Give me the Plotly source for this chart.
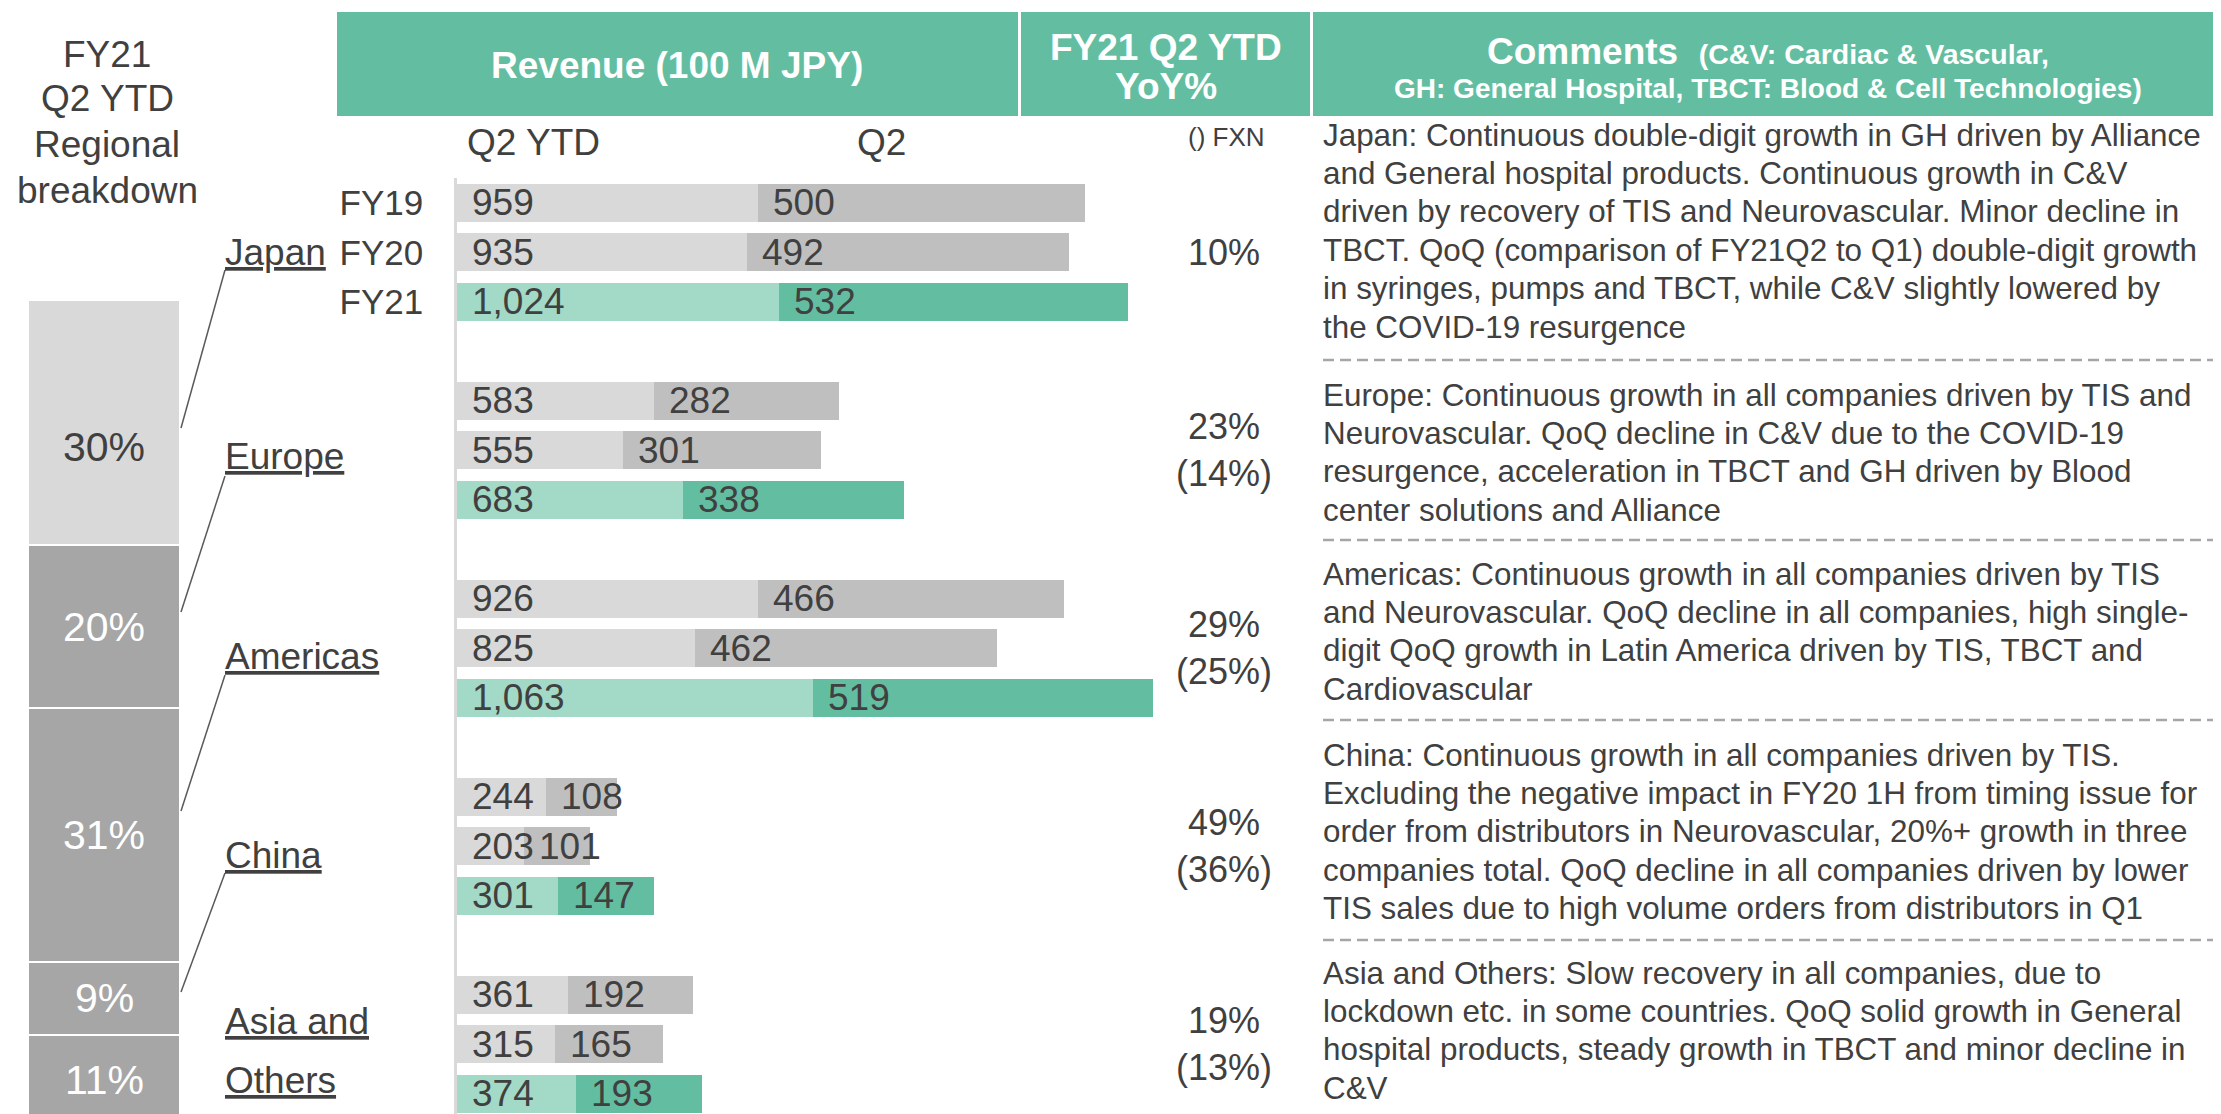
import plotly.graph_objects as go

W, H = 2221, 1114

# ---------------- data ----------------
regions = ["Japan", "Europe", "Americas", "China", "Asia and Others"]
years = ["FY19", "FY20", "FY21"]

ytd_fy19 = [959, 583, 926, 244, 361]
ytd_fy20 = [935, 555, 825, 203, 315]
ytd_fy21 = [1024, 683, 1063, 301, 374]
q2_fy19 = [500, 282, 466, 108, 192]
q2_fy20 = [492, 301, 462, 101, 165]
q2_fy21 = [532, 338, 519, 147, 193]

yoy = ["10%", "23%", "29%", "49%", "19%"]
yoy_fxn = ["", "(14%)", "(25%)", "(36%)", "(13%)"]

share = [30, 20, 31, 9, 11]  # FY21 Q2 YTD regional breakdown (%)

comments_japan = [
    "Japan: Continuous double-digit growth in GH driven by Alliance",
    "and General hospital products. Continuous growth in C&amp;V",
    "driven by recovery of TIS and Neurovascular. Minor decline in",
    "TBCT. QoQ (comparison of FY21Q2 to Q1) double-digit growth",
    "in syringes, pumps and TBCT, while C&amp;V slightly lowered by",
    "the COVID-19 resurgence",
]
comments_europe = [
    "Europe: Continuous growth in all companies driven by TIS and",
    "Neurovascular. QoQ decline in C&amp;V due to the COVID-19",
    "resurgence, acceleration in TBCT and GH driven by Blood",
    "center solutions and Alliance",
]
comments_americas = [
    "Americas: Continuous growth in all companies driven by TIS",
    "and Neurovascular. QoQ decline in all companies, high single-",
    "digit QoQ growth in Latin America driven by TIS, TBCT and",
    "Cardiovascular",
]
comments_china = [
    "China: Continuous growth in all companies driven by TIS.",
    "Excluding the negative impact in FY20 1H from timing issue for",
    "order from distributors in Neurovascular, 20%+ growth in three",
    "companies total. QoQ decline in all companies driven by lower",
    "TIS sales due to high volume orders from distributors in Q1",
]
comments_asia = [
    "Asia and Others: Slow recovery in all companies, due to",
    "lockdown etc. in some countries. QoQ solid growth in General",
    "hospital products, steady growth in TBCT and minor decline in",
    "C&amp;V",
]

# ---------------- styles ----------------
FONT = "Arial, Liberation Sans, sans-serif"
TXT = "#404040"
GREEN = "#63BEA1"
LGREEN = "#A3D9C7"
LGRAY = "#D9D9D9"
MGRAY = "#BFBFBF"
DGRAY = "#A6A6A6"

OFF = 8  # page body margin offset


def px(x):
    return (x - OFF) / W


def py(y):
    return 1 - (y - OFF) / H


ytd_all = [ytd_fy19, ytd_fy20, ytd_fy21]
q2_all = [q2_fy19, q2_fy20, q2_fy21]

slots, q1_vals, q2_vals, ytd_vals, c1, c2 = [], [], [], [], [], []
for ri in range(len(regions)):
    for yi in range(len(years)):
        slots.append(ri * 4 + yi)
        ytd_vals.append(ytd_all[yi][ri])
        q2_vals.append(q2_all[yi][ri])
        q1_vals.append(ytd_all[yi][ri] - q2_all[yi][ri])
        c1.append(LGREEN if yi == 2 else LGRAY)
        c2.append(GREEN if yi == 2 else MGRAY)

fig = go.Figure()

fig.add_trace(go.Bar(x=q1_vals, y=slots, orientation="h", width=0.77,
                     marker=dict(color=c1, line=dict(width=0)),
                     xaxis="x", yaxis="y", hoverinfo="skip"))
fig.add_trace(go.Bar(x=q2_vals, y=slots, orientation="h", width=0.77,
                     marker=dict(color=c2, line=dict(width=0)),
                     xaxis="x", yaxis="y", hoverinfo="skip"))

ann = []

# stacked share bar (Japan on top)
cum = 0
for i in reversed(range(len(regions))):
    fig.add_trace(go.Bar(
        x=[0], y=[share[i]], width=1, xaxis="x2", yaxis="y2",
        marker=dict(color=LGRAY if i == 0 else DGRAY, line=dict(color="white", width=2.5)),
        hoverinfo="skip"))
    ann.append(dict(x=0, y=cum + share[i] / 2, xref="x2", yref="y2", text=f"{share[i]}%",
                    showarrow=False, xanchor="center", yanchor="middle",
                    yshift=-24 if i == 0 else 0,
                    font=dict(size=41, color=TXT if i == 0 else "white")))
    cum += share[i]

# bar value labels
for s, q1, yv, qv in zip(slots, q1_vals, ytd_vals, q2_vals):
    ann.append(dict(x=0, y=s, xref="x", yref="y", text=f"{yv:,}", showarrow=False,
                    xanchor="left", yanchor="middle", xshift=13,
                    font=dict(size=37, color=TXT)))
    ann.append(dict(x=q1, y=s, xref="x", yref="y", text=f"{qv:,}", showarrow=False,
                    xanchor="left", yanchor="middle", xshift=13,
                    font=dict(size=37, color=TXT)))

# YoY column
for ri in range(len(regions)):
    t = yoy[ri] if not yoy_fxn[ri] else f"{yoy[ri]}<br>{yoy_fxn[ri]}"
    ann.append(dict(x=px(1224), y=ri * 4 + 1, xref="paper", yref="y", text=t,
                    showarrow=False, xanchor="center", yanchor="middle",
                    font=dict(size=36, color=TXT)))

# left title
for t, yy in zip(["FY21", "Q2 YTD", "Regional", "breakdown"], [55, 99, 144, 190]):
    ann.append(dict(x=px(107), y=py(yy), xref="paper", yref="paper", text=t, showarrow=False,
                    xanchor="center", yanchor="middle", font=dict(size=37, color=TXT)))

# region labels
for t, yy in zip(["Japan", "Europe", "Americas", "China", "Asia and", "Others"],
                 [253, 456, 656, 855, 1021, 1080]):
    ann.append(dict(x=px(223), y=py(yy), xref="paper", yref="paper", text=f"<u>{t}</u>",
                    showarrow=False, xanchor="left", yanchor="middle",
                    font=dict(size=37, color=TXT)))

# headers
ann.append(dict(x=px(677), y=py(66), xref="paper", yref="paper",
                text="<b>Revenue (100 M JPY)</b>", showarrow=False,
                xanchor="center", yanchor="middle", font=dict(size=37, color="white")))
ann.append(dict(x=px(1166), y=py(47), xref="paper", yref="paper",
                text="<b>FY21 Q2 YTD</b>", showarrow=False,
                xanchor="center", yanchor="middle", font=dict(size=37, color="white")))
ann.append(dict(x=px(1166), y=py(87), xref="paper", yref="paper",
                text="<b>YoY%</b>", showarrow=False,
                xanchor="center", yanchor="middle", font=dict(size=37, color="white")))
ann.append(dict(x=px(1768), y=py(51), xref="paper", yref="paper",
                text="<b>Comments</b>  <span style='font-size:28.5px'><b>(C&amp;V: Cardiac &amp; Vascular,</b></span>",
                showarrow=False, xanchor="center", yanchor="middle",
                font=dict(size=37, color="white")))
ann.append(dict(x=px(1768), y=py(88), xref="paper", yref="paper",
                text="<b>GH: General Hospital, TBCT: Blood &amp; Cell Technologies)</b>",
                showarrow=False, xanchor="center", yanchor="middle",
                font=dict(size=28, color="white")))

ann.append(dict(x=px(533), y=py(143), xref="paper", yref="paper", text="Q2 YTD",
                showarrow=False, xanchor="center", yanchor="middle", font=dict(size=37, color=TXT)))
ann.append(dict(x=px(881), y=py(143), xref="paper", yref="paper", text="Q2",
                showarrow=False, xanchor="center", yanchor="middle", font=dict(size=37, color=TXT)))
ann.append(dict(x=px(1226), y=py(137), xref="paper", yref="paper", text="() FXN",
                showarrow=False, xanchor="center", yanchor="middle", font=dict(size=26, color=TXT)))

# comments
blocks = [comments_japan, comments_europe, comments_americas, comments_china, comments_asia]
starts = [135, 395, 574, 755, 973]
for lines, y0 in zip(blocks, starts):
    for k, t in enumerate(lines):
        ann.append(dict(x=px(1321), y=py(y0 + k * 38.4), xref="paper", yref="paper", text=t,
                        showarrow=False, xanchor="left", yanchor="middle",
                        font=dict(size=31.4, color=TXT)))

shapes = []
# header boxes
for x0, x1 in [(337, 1018), (1021, 1310), (1313, 2240)]:
    shapes.append(dict(type="rect", xref="paper", yref="paper", x0=px(x0), x1=px(x1),
                       y0=py(116), y1=py(12), fillcolor=GREEN, line=dict(width=0), layer="below"))
# dashed separators
for yy in [360, 540, 720, 940]:
    shapes.append(dict(type="line", xref="paper", yref="paper", x0=px(1323), x1=px(2240),
                       y0=py(yy), y1=py(yy), line=dict(color=DGRAY, width=2.5, dash="11px,6px")))
# connector lines
for (ya, yb) in [(428, 270), (612, 476), (811, 675), (992, 873)]:
    shapes.append(dict(type="line", xref="paper", yref="paper", x0=px(181), x1=px(225),
                       y0=py(ya), y1=py(yb), line=dict(color="#595959", width=1.5)))

SLOT = 49.5
bottom_screen = H + OFF
fig.update_layout(
    width=W, height=H,
    margin=dict(l=0, r=0, t=0, b=0),
    paper_bgcolor="white", plot_bgcolor="rgba(0,0,0,0)",
    barmode="stack", bargap=0, showlegend=False,
    font=dict(family=FONT, color=TXT),
    xaxis=dict(domain=[px(457), px(1160)], range=[0, (1160 - 457) / 0.655],
               visible=False, fixedrange=True),
    yaxis=dict(domain=[0, py(178)], range=[(bottom_screen - 178) / SLOT - 0.5, -0.5],
               showgrid=False, zeroline=False,
               showline=True, linecolor=LGRAY, linewidth=2.5,
               tickvals=[0, 1, 2], ticktext=years, ticks="",
               ticklabelstandoff=24, tickfont=dict(size=35, color=TXT), fixedrange=True),
    xaxis2=dict(domain=[px(28), px(180)], range=[-0.5, 0.5], visible=False, anchor="y2"),
    yaxis2=dict(domain=[0, py(300)], range=[(1125 - bottom_screen) / 8.17, 101],
                visible=False, anchor="x2"),
    annotations=ann, shapes=shapes,
)

fig.write_html("out.html")
